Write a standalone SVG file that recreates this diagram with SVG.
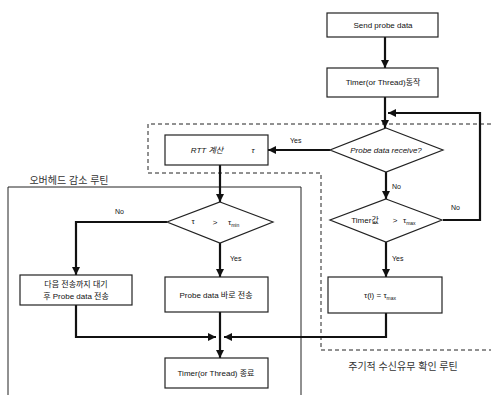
<svg xmlns="http://www.w3.org/2000/svg" width="491" height="395" viewBox="0 0 491 395">
<style>
.box{fill:#fff;stroke:#222;stroke-width:1.2}
.reg{fill:none;stroke:#222;stroke-width:1}
.dash{fill:none;stroke:#222;stroke-width:1;stroke-dasharray:4 3}
.flow{fill:none;stroke:#111;stroke-width:2.2}
text{font-family:"Liberation Sans","Noto Sans CJK KR",sans-serif;font-size:8px;fill:#111;text-anchor:middle}
.lbl{font-size:7px;text-anchor:start}
.it{font-style:italic}
.title{font-size:10px;fill:#333}
</style>
<defs>
<marker id="ah" viewBox="0 0 10 10" refX="10" refY="5" markerWidth="9" markerHeight="8" markerUnits="userSpaceOnUse" orient="auto">
<path d="M0,0 L10,5 L0,10 z" fill="#111"/>
</marker>
</defs>
<rect width="491" height="395" fill="#fff"/>
<g id="regions">
<path class="dash" d="M491,124 H148 V173 H321 V350 H491"/>
<path class="reg" d="M8,395 V187 H301 V395"/>
<text class="title" x="69" y="184">오버헤드 감소 루틴</text>
<text class="title" x="403" y="370">주기적 수신유무 확인 루틴</text>
</g>
<g id="connectors">
<path class="flow" d="M385,37 V68" marker-end="url(#ah)"/>
<path class="flow" d="M385,97 V128" marker-end="url(#ah)"/>
<path class="flow" d="M443,220 H480 V113 H388" marker-end="url(#ah)"/>
<path class="flow" d="M330,150 H268" marker-end="url(#ah)"/>
<path class="flow" d="M386,172 V199" marker-end="url(#ah)"/>
<path class="flow" d="M386,242 V277" marker-end="url(#ah)"/>
<path class="flow" d="M220,165 V202" marker-end="url(#ah)"/>
<path class="flow" d="M167,222 H76 V275" marker-end="url(#ah)"/>
<path class="flow" d="M220,243 V277" marker-end="url(#ah)"/>
<path class="flow" d="M76,305 V337 H216" marker-end="url(#ah)"/>
<path class="flow" d="M386,313 V337 H224" marker-end="url(#ah)"/>
<path class="flow" d="M220,312 V358" marker-end="url(#ah)"/>
<text class="lbl" x="290" y="143">Yes</text>
<text class="lbl" x="392" y="189">No</text>
<text class="lbl" x="451" y="210">No</text>
<text class="lbl" x="392" y="261">Yes</text>
<text class="lbl" x="115" y="214">No</text>
<text class="lbl" x="230" y="261">Yes</text>
</g>
<g id="send">
<rect class="box" x="327" y="13" width="111" height="24"/>
<text x="383" y="28">Send probe data</text>
</g>
<g id="timerStart">
<rect class="box" x="327" y="68" width="111" height="29"/>
<text x="383" y="85">Timer(or Thread)동작</text>
</g>
<g id="receive">
<polygon class="box" points="386,128 443,150 386,172 330,150"/>
<text class="it" x="386" y="153">Probe data receive?</text>
</g>
<g id="rtt">
<rect class="box" x="165" y="135" width="103" height="30"/>
<text class="it" x="207" y="153">RTT 계산</text>
<text class="it" x="253" y="153">τ</text>
</g>
<g id="cmpMin">
<polygon class="box" points="220,202 273,222 220,243 167,222"/>
<text x="193" y="224">τ</text>
<text x="215" y="225">&gt;</text>
<text x="228" y="225" style="text-anchor:start">τ<tspan font-size="5" dy="2">min</tspan></text>
</g>
<g id="cmpMax">
<polygon class="box" points="386,199 442,220 386,242 330,220"/>
<text x="365" y="223">Timer값</text>
<text x="395" y="223">&gt;</text>
<text x="403" y="223" style="text-anchor:start">τ<tspan font-size="5" dy="2">max</tspan></text>
</g>
<g id="wait">
<rect class="box" x="20" y="275" width="112" height="30"/>
<text x="76" y="287">다음 전송까지 대기</text>
<text x="76" y="299">후 Probe data 전송</text>
</g>
<g id="sendNow">
<rect class="box" x="165" y="277" width="103" height="35"/>
<text x="216" y="298">Probe data 바로 전송</text>
</g>
<g id="setMax">
<rect class="box" x="328" y="277" width="114" height="36"/>
<text x="380" y="298">τ(i) = τ<tspan font-size="5" dy="2">max</tspan></text>
</g>
<g id="timerEnd">
<rect class="box" x="165" y="358" width="103" height="30"/>
<text x="216" y="376">Timer(or Thread) 종료</text>
</g>
</svg>
